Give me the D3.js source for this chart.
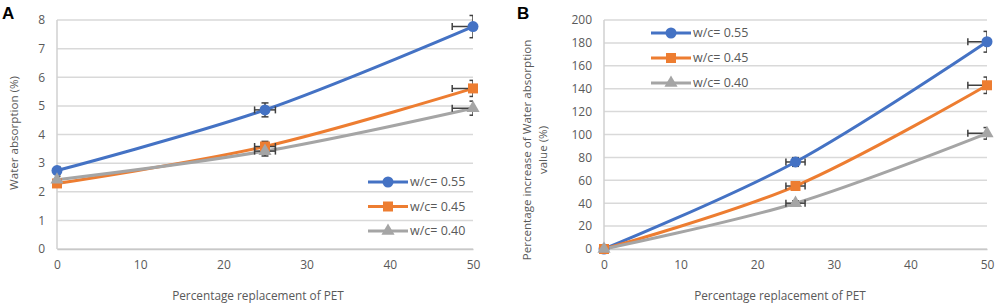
<!DOCTYPE html>
<html>
<head>
<meta charset="utf-8">
<script src="https://cdn.jsdelivr.net/npm/d3@7"></script>
<style>
  html, body { margin: 0; padding: 0; background: #fff; }
  svg { display: block; font-family: 'Open Sans', sans-serif; }
</style>
</head>
<body>
<div id="chart"></div>
<script>
'use strict';

const width = 996;
const height = 306;

// PET replacement (%) on x axis
const pet = [0, 25, 50];
const seriesNames = ['w/c= 0.55', 'w/c= 0.45', 'w/c= 0.40'];
const seriesColors = ['#4472C4', '#ED7D31', '#A5A5A5'];
const seriesShapes = ['circle', 'square', 'triangle'];

// Panel A - water absorption (%)
const absorption055 = [2.74, 4.86, 7.77];
const absorption045 = [2.29, 3.58, 5.61];
const absorption040 = [2.42, 3.42, 4.92];

// Panel B - percentage increase of water absorption value (%)
const increase055 = [0, 76, 181];
const increase045 = [0, 55, 143];
const increase040 = [0, 40, 101];

// error bars are a 5% percentage on both x and y
const errorPct = 0.05;

const xTicks = [0, 10, 20, 30, 40, 50];
const yTicksA = [0, 1, 2, 3, 4, 5, 6, 7, 8];
const yTicksB = [0, 20, 40, 60, 80, 100, 120, 140, 160, 180, 200];

const svg = d3.select('#chart').append('svg')
  .attr('width', width)
  .attr('height', height);

const symbolFor = {
  circle: d3.symbol().type(d3.symbolCircle).size(95),
  square: d3.symbol().type(d3.symbolSquare).size(100),
  triangle: d3.symbol().type(d3.symbolTriangle).size(75)
};

function drawPanel(cfg) {
  const x = d3.scaleLinear().domain([0, 50]).range([cfg.left, cfg.right]);
  const y = d3.scaleLinear().domain(cfg.yDomain).range([cfg.bottom, cfg.top]);
  const g = svg.append('g');

  // gridlines
  g.append('g')
    .selectAll('line')
    .data(cfg.yTicks)
    .enter().append('line')
    .attr('x1', cfg.left).attr('x2', cfg.right)
    .attr('y1', d => y(d)).attr('y2', d => y(d))
    .attr('stroke', '#d9d9d9')
    .attr('stroke-width', 1.5);

  // left axis line
  g.append('line')
    .attr('x1', cfg.left).attr('x2', cfg.left)
    .attr('y1', cfg.top).attr('y2', cfg.bottom)
    .attr('stroke', '#d0d0d0')
    .attr('stroke-width', 1.5);

  // y tick labels
  const yAxis = d3.axisLeft(y).tickValues(cfg.yTicks).tickSize(0).tickPadding(12);
  const ya = g.append('g').attr('transform', `translate(${cfg.left},0)`).call(yAxis);
  ya.select('.domain').remove();
  ya.selectAll('text')
    .attr('fill', '#595959')
    .style('font-size', '12px')
    .style('font-family', "'Open Sans', sans-serif");

  // x tick labels
  const xAxis = d3.axisBottom(x).tickValues(xTicks).tickSize(0).tickPadding(11);
  const xa = g.append('g').attr('transform', `translate(0,${cfg.bottom})`).call(xAxis);
  xa.select('.domain')
    .attr('stroke', '#c8c8c8')
    .attr('stroke-width', 1.5);
  xa.selectAll('text')
    .attr('fill', '#595959')
    .style('font-size', '12px')
    .style('font-family', "'Open Sans', sans-serif");

  // axis titles
  g.append('text')
    .attr('x', cfg.xTitleX)
    .attr('y', 300)
    .attr('text-anchor', 'middle')
    .attr('fill', '#595959')
    .style('font-size', '11.8px')
    .text('Percentage replacement of PET');

  const yt = g.append('text')
    .attr('transform', `translate(${cfg.yTitleX},${cfg.yTitleY}) rotate(-90)`)
    .attr('text-anchor', 'middle')
    .attr('fill', '#595959')
    .style('font-size', '11.6px');
  cfg.yTitle.forEach((t, i) => {
    yt.append('tspan')
      .attr('x', 0)
      .attr('dy', i === 0 ? 0 : 16)
      .text(t);
  });

  // panel letter
  g.append('text')
    .attr('x', cfg.letterX)
    .attr('y', 19)
    .attr('fill', '#000')
    .style('font-family', "'Liberation Sans', Arial, sans-serif")
    .style('font-weight', 'bold')
    .style('font-size', '17px')
    .text(cfg.letter);

  const clipId = 'clip' + cfg.letter;
  svg.append('clipPath').attr('id', clipId)
    .append('rect')
    .attr('x', cfg.left).attr('y', cfg.top - 20)
    .attr('width', cfg.right - cfg.left).attr('height', cfg.bottom - cfg.top + 40);

  const line = d3.line()
    .x((d, i) => x(pet[i]))
    .y(d => y(d))
    .curve(d3.curveCardinal.tension(0));

  cfg.series.forEach((vals, s) => {
    g.append('path')
      .datum(vals)
      .attr('d', line)
      .attr('fill', 'none')
      .attr('stroke', seriesColors[s])
      .attr('stroke-width', 3)
      .attr('stroke-linecap', 'round');
  });

  // error bars
  const eb = g.append('g').attr('clip-path', `url(#${clipId})`);
  cfg.series.forEach(vals => {
    vals.forEach((v, i) => {
      const px = x(pet[i]);
      const py = y(v);
      const ex = pet[i] * errorPct;
      const ey = v * errorPct;
      const stroke = '#404040';
      if (ex > 0) {
        const x0 = x(pet[i] - ex), x1 = x(pet[i] + ex);
        eb.append('line').attr('x1', x0).attr('x2', x1).attr('y1', py).attr('y2', py)
          .attr('stroke', stroke).attr('stroke-width', 1.5);
        [x0, x1].forEach(cx => eb.append('line')
          .attr('x1', cx).attr('x2', cx).attr('y1', py - 3.5).attr('y2', py + 3.5)
          .attr('stroke', stroke).attr('stroke-width', 1.5));
      }
      if (ey > 0) {
        const y0 = y(v - ey), y1 = y(v + ey);
        eb.append('line').attr('x1', px).attr('x2', px).attr('y1', y0).attr('y2', y1)
          .attr('stroke', stroke).attr('stroke-width', 1.5);
        [y0, y1].forEach(cy => eb.append('line')
          .attr('x1', px - 3.5).attr('x2', px + 3.5).attr('y1', cy).attr('y2', cy)
          .attr('stroke', stroke).attr('stroke-width', 1.5));
      }
    });
  });

  // markers
  cfg.series.forEach((vals, s) => {
    g.append('g')
      .selectAll('path')
      .data(vals)
      .enter().append('path')
      .attr('transform', (d, i) => `translate(${x(pet[i])},${y(d)})`)
      .attr('d', symbolFor[seriesShapes[s]]())
      .attr('fill', seriesColors[s]);
  });

  // legend
  const lg = g.append('g');
  seriesNames.forEach((name, s) => {
    const ly = cfg.legendY + s * cfg.legendStep;
    lg.append('line')
      .attr('x1', cfg.legendX).attr('x2', cfg.legendX + 40)
      .attr('y1', ly).attr('y2', ly)
      .attr('stroke', seriesColors[s])
      .attr('stroke-width', 3);
    lg.append('path')
      .attr('transform', `translate(${cfg.legendX + 20},${ly})`)
      .attr('d', symbolFor[seriesShapes[s]]())
      .attr('fill', seriesColors[s]);
    lg.append('text')
      .attr('x', cfg.legendX + 42)
      .attr('y', ly)
      .attr('dy', '0.35em')
      .attr('fill', '#595959')
      .style('font-size', '12.5px')
      .text(name);
  });
}

drawPanel({
  letter: 'A', letterX: 2,
  left: 57, right: 473, top: 20, bottom: 249,
  yDomain: [0, 8], yTicks: yTicksA,
  series: [absorption055, absorption045, absorption040],
  yTitle: ['Water absorption (%)'], yTitleX: 18, yTitleY: 133,
  xTitleX: 258,
  legendX: 368, legendY: 182, legendStep: 24.5
});

drawPanel({
  letter: 'B', letterX: 517,
  left: 604, right: 987, top: 20, bottom: 249,
  yDomain: [0, 200], yTicks: yTicksB,
  series: [increase055, increase045, increase040],
  yTitle: ['Percentage increase of Water absorption', 'value (%)'], yTitleX: 531, yTitleY: 150,
  xTitleX: 780,
  legendX: 651, legendY: 33, legendStep: 25
});
</script>
</body>
</html>
